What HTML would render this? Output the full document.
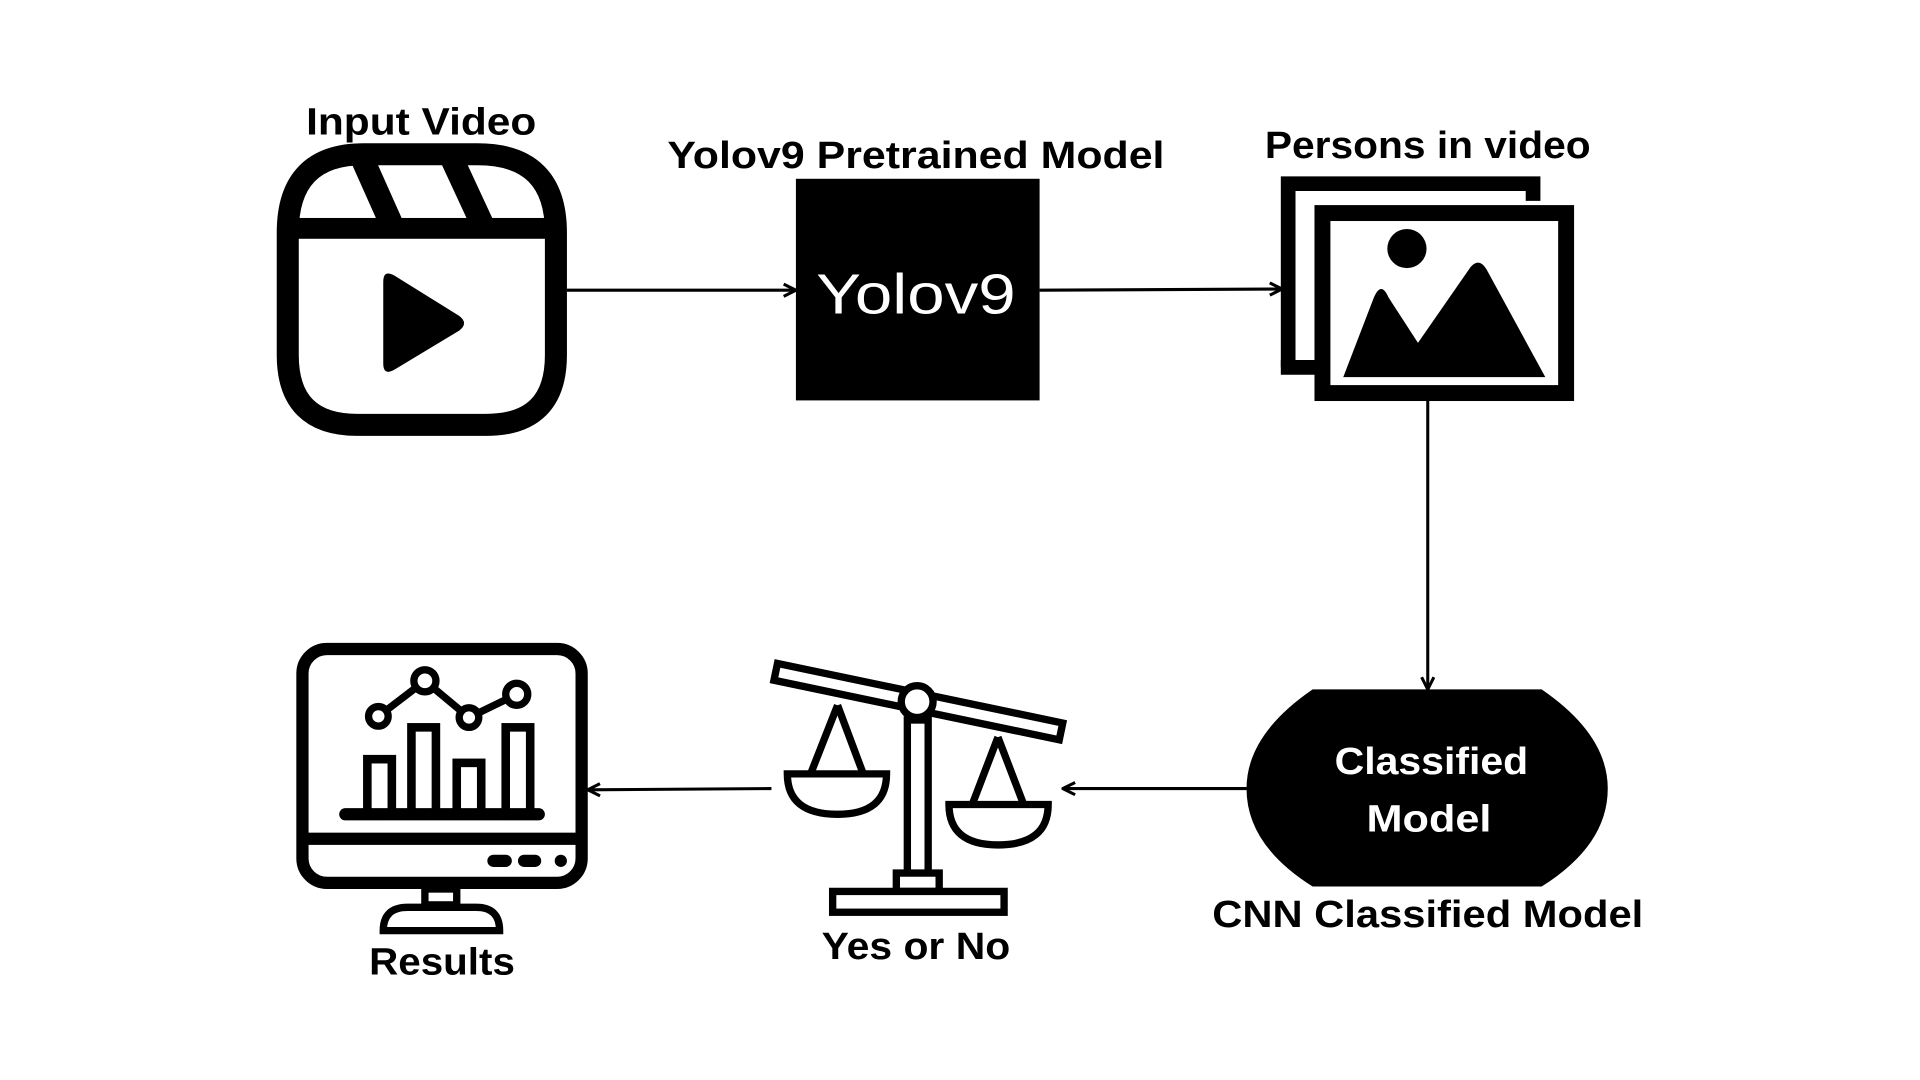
<!DOCTYPE html>
<html><head><meta charset="utf-8"><style>
html,body{margin:0;padding:0;background:#fff;}
svg{display:block;}
text{font-family:"Liberation Sans",sans-serif;font-weight:bold;}
</style></head><body>
<svg width="1920" height="1080" viewBox="0 0 1568 882" preserveAspectRatio="none" xmlns="http://www.w3.org/2000/svg">
<rect width="1568" height="882" fill="#fff"/>
<defs>
<marker id="ah" viewBox="0 0 10 10" refX="9" refY="5" markerWidth="5" markerHeight="5" orient="auto">
<path d="M1,1 L9,5 L1,9" fill="none" stroke="#000" stroke-width="2"/>
</marker>
</defs>

<!-- Labels -->
<text x="344" y="110" font-size="31" text-anchor="middle" textLength="188" lengthAdjust="spacingAndGlyphs">Input Video</text>
<text x="748" y="137" font-size="31" text-anchor="middle" textLength="406" lengthAdjust="spacingAndGlyphs">Yolov9 Pretrained Model</text>
<text x="1166" y="129" font-size="31" text-anchor="middle" textLength="266" lengthAdjust="spacingAndGlyphs">Persons in video</text>
<text x="1166" y="757" font-size="31" text-anchor="middle" textLength="352" lengthAdjust="spacingAndGlyphs">CNN Classified Model</text>
<text x="748" y="783" font-size="31" text-anchor="middle" textLength="154" lengthAdjust="spacingAndGlyphs">Yes or No</text>
<text x="361" y="796" font-size="31" text-anchor="middle" textLength="119" lengthAdjust="spacingAndGlyphs">Results</text>

<!-- Video icon -->
<path d="M297,126 L390,126 Q454,126 454,190 L454,290 Q454,347 397,347 L292,347 Q235,347 235,290 L235,190 Q235,126 297,126 Z" fill="none" stroke="#000" stroke-width="18"/>
<rect x="240" y="178" width="210" height="17" fill="#000"/>
<path d="M282,122 L303,122 L328,178 L307,178 Z" fill="#000"/>
<path d="M355,122 L376,122 L402,178 L381,178 Z" fill="#000"/>
<path d="M313,230 Q313,220 322,225 L375,258 Q383,264 375,270 L322,302 Q313,307 313,297 Z" fill="#000"/>

<!-- Arrow 1 -->
<line x1="463" y1="237" x2="650" y2="237" stroke="#000" stroke-width="2.5" marker-end="url(#ah)"/>

<!-- Yolov9 box -->
<rect x="650" y="146" width="199" height="181" fill="#000"/>
<text x="748" y="256" font-size="46" fill="#fff" text-anchor="middle" style="font-weight:normal" textLength="163" lengthAdjust="spacingAndGlyphs">Yolov9</text>

<!-- Arrow 2 -->
<line x1="849" y1="237" x2="1047" y2="236" stroke="#000" stroke-width="2.5" marker-end="url(#ah)"/>

<!-- Images icon -->
<path d="M1052,300 L1052,150 L1252,150 L1252,164" fill="none" stroke="#000" stroke-width="12"/>
<line x1="1046" y1="300" x2="1074" y2="300" stroke="#000" stroke-width="12"/>
<rect x="1080" y="174" width="199" height="147" fill="#fff" stroke="#000" stroke-width="13"/>
<circle cx="1149" cy="203" r="16" fill="#000"/>
<path d="M1097,308 L1122,243 Q1128,229 1134,243 L1158,280 L1201,218 Q1208,210 1214,220 L1262,308 Z" fill="#000"/>

<!-- Vertical arrow -->
<line x1="1166" y1="327" x2="1166" y2="563" stroke="#000" stroke-width="2.5" marker-end="url(#ah)"/>

<!-- Classified Model -->
<path d="M1072,563 L1259,563 Q1313,600 1313,644 Q1313,690 1259,724 L1072,724 Q1018,690 1018,644 Q1018,600 1072,563 Z" fill="#000"/>
<text x="1169" y="632" font-size="31" fill="#fff" text-anchor="middle" textLength="158" lengthAdjust="spacingAndGlyphs">Classified</text>
<text x="1167" y="679" font-size="31" fill="#fff" text-anchor="middle" textLength="102" lengthAdjust="spacingAndGlyphs">Model</text>

<!-- Arrow 3 -->
<line x1="1018" y1="644" x2="868" y2="644" stroke="#000" stroke-width="2.5" marker-end="url(#ah)"/>

<!-- Scales -->
<g transform="rotate(11.8 750 573)">
<rect x="631" y="566" width="238" height="14" fill="#fff" stroke="#000" stroke-width="6"/>
</g>
<rect x="741" y="588" width="17" height="128" fill="#fff" stroke="#000" stroke-width="6"/>
<circle cx="749" cy="573" r="13" fill="#fff" stroke="#000" stroke-width="6"/>
<rect x="732" y="713" width="35" height="15" fill="#fff" stroke="#000" stroke-width="6"/>
<rect x="680" y="728" width="140" height="17" fill="#fff" stroke="#000" stroke-width="6"/>
<path d="M684,576 L662,632 M684,576 L705,632" stroke="#000" stroke-width="6" fill="none"/>
<path d="M643,632 L724,632 Q724,665 684,665 Q643,665 643,632 Z" fill="#fff" stroke="#000" stroke-width="6"/>
<path d="M815,602 L794,657 M815,602 L836,657" stroke="#000" stroke-width="6" fill="none"/>
<path d="M775,657 L856,657 Q856,690 815,690 Q775,690 775,657 Z" fill="#fff" stroke="#000" stroke-width="6"/>

<!-- Arrow 4 -->
<line x1="630" y1="644" x2="480" y2="645" stroke="#000" stroke-width="2.5" marker-end="url(#ah)"/>

<!-- Monitor -->
<rect x="247" y="530" width="228" height="191" rx="20" fill="#fff" stroke="#000" stroke-width="10"/>
<rect x="244" y="680" width="234" height="10" fill="#000"/>
<rect x="398" y="698" width="20" height="10" rx="5" fill="#000"/>
<rect x="423" y="698" width="19" height="10" rx="5" fill="#000"/>
<circle cx="458" cy="703" r="5" fill="#000"/>
<rect x="347" y="726" width="26" height="13" fill="#fff" stroke="#000" stroke-width="6"/>
<path d="M313,760 Q313,741 333,741 L389,741 Q408,741 408,760 Z" fill="#fff" stroke="#000" stroke-width="6"/>
<rect x="300" y="620" width="20" height="45" fill="#fff" stroke="#000" stroke-width="7"/>
<rect x="336" y="594" width="20" height="71" fill="#fff" stroke="#000" stroke-width="7"/>
<rect x="373" y="623" width="20" height="42" fill="#fff" stroke="#000" stroke-width="7"/>
<rect x="413" y="594" width="20" height="71" fill="#fff" stroke="#000" stroke-width="7"/>
<line x1="282" y1="665" x2="440" y2="665" stroke="#000" stroke-width="10" stroke-linecap="round"/>
<polyline points="309,585 347,556 383,586 422,567" fill="none" stroke="#000" stroke-width="6"/>
<circle cx="309" cy="585" r="8" fill="#fff" stroke="#000" stroke-width="6"/>
<circle cx="347" cy="556" r="9" fill="#fff" stroke="#000" stroke-width="6"/>
<circle cx="383" cy="586" r="8" fill="#fff" stroke="#000" stroke-width="6"/>
<circle cx="422" cy="567" r="9" fill="#fff" stroke="#000" stroke-width="6"/>
</svg>
</body></html>
